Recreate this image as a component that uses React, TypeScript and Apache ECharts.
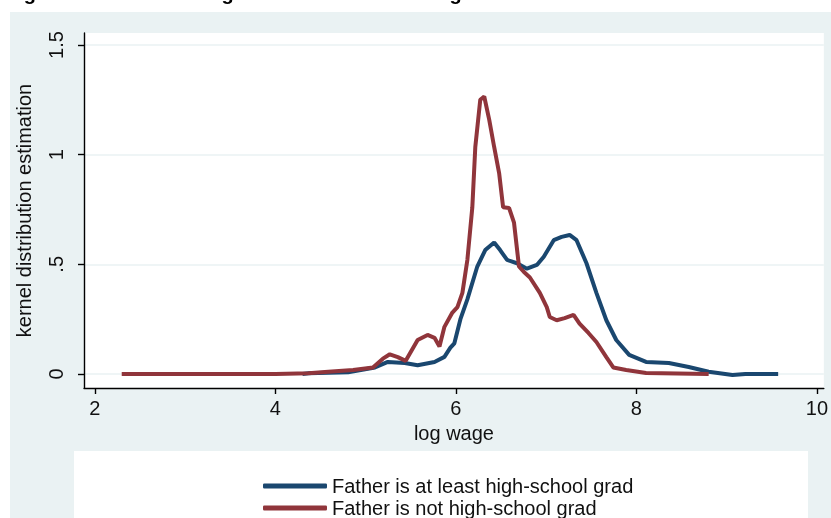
import { useEffect, useRef } from "react";
import * as echarts from "echarts";

const xTicks = [2, 4, 6, 8, 10];
const yTicks = [0, 0.5, 1, 1.5];
const yTickLabels = ["0", ".5", "1", "1.5"];
const seriesNames = ["Father is at least high-school grad", "Father is not high-school grad"];
const titleText = "Figure 4: Individual wage distribution according to father's education";

// Father is at least high-school grad (blue)
const gradX = [4.3, 4.366, 4.806, 5.103, 5.246, 5.433, 5.576, 5.763, 5.873, 5.939, 5.983, 6.05, 6.127, 6.237, 6.325, 6.424, 6.49, 6.567, 6.677, 6.787, 6.897, 6.974, 7.084, 7.172, 7.26, 7.337, 7.447, 7.557, 7.667, 7.777, 7.92, 8.107, 8.36, 8.58, 8.801, 9.065, 9.208, 9.571];
const gradY = [0, 0.003, 0.008, 0.03, 0.055, 0.05, 0.04, 0.055, 0.078, 0.12, 0.14, 0.25, 0.34, 0.49, 0.565, 0.6, 0.565, 0.52, 0.505, 0.48, 0.497, 0.535, 0.61, 0.625, 0.634, 0.61, 0.505, 0.37, 0.245, 0.155, 0.087, 0.055, 0.05, 0.032, 0.01, -0.005, 0, 0];

// Father is not high-school grad (red)
const notGradX = [2.297, 2.715, 3.3, 4.0, 4.366, 4.586, 4.861, 5.081, 5.191, 5.268, 5.356, 5.444, 5.576, 5.686, 5.763, 5.818, 5.873, 5.961, 6.017, 6.072, 6.127, 6.182, 6.215, 6.27, 6.314, 6.369, 6.424, 6.479, 6.523, 6.589, 6.644, 6.699, 6.754, 6.82, 6.93, 7.007, 7.04, 7.117, 7.205, 7.304, 7.37, 7.469, 7.557, 7.667, 7.744, 7.887, 8.107, 8.801];
const notGradY = [0, 0, 0, 0, 0.003, 0.01, 0.018, 0.03, 0.07, 0.09, 0.077, 0.06, 0.155, 0.178, 0.165, 0.125, 0.215, 0.28, 0.305, 0.37, 0.52, 0.76, 1.035, 1.25, 1.265, 1.16, 1.035, 0.916, 0.76, 0.757, 0.69, 0.49, 0.465, 0.44, 0.37, 0.305, 0.26, 0.245, 0.255, 0.27, 0.23, 0.187, 0.146, 0.077, 0.03, 0.018, 0.005, 0];

const BLUE = "#1a476f";
const RED = "#90353b";
const PANEL = "#eaf2f3";
const FONT = "Liberation Sans, Arial, sans-serif";

export default function App() {
  const ref = useRef<HTMLDivElement>(null);
  useEffect(() => {
    if (!ref.current) return;
    const chart = echarts.init(ref.current, null, { renderer: "svg" });
    const pair = (xs: number[], ys: number[]) => xs.map((x, i) => [x, ys[i]]);
    const legendBase = {
      orient: "vertical",
      left: 263,
      padding: 0,
      itemWidth: 64,
      itemHeight: 5,
      icon: "roundRect",
      textStyle: { fontSize: 20, color: "#111", fontFamily: FONT },
    };
    chart.setOption({
      animation: false,
      textStyle: { fontFamily: FONT },
      graphic: [
        { type: "rect", z: -10, silent: true, shape: { x: 10, y: 12, width: 821, height: 506 }, style: { fill: PANEL } },
        { type: "rect", z: -9, silent: true, shape: { x: 74, y: 451, width: 734, height: 80 }, style: { fill: "#fff" } },
        { type: "text", x: 6, y: -17, silent: true, style: { text: titleText, fill: "#000", fontSize: 20, fontWeight: "bold", fontFamily: FONT, verticalAlign: "top" } },
      ],
      grid: { left: 84, right: 2, top: 33, bottom: 130, show: true, backgroundColor: "#fff", borderWidth: 0 },
      legend: [
        { ...legendBase, top: 476, data: [seriesNames[0]] },
        { ...legendBase, top: 498, data: [seriesNames[1]] },
      ],
      xAxis: {
        type: "value",
        min: 1.879,
        max: 10.077,
        name: "log wage",
        nameLocation: "middle",
        nameGap: 35,
        nameTextStyle: { fontSize: 20, color: "#111", fontFamily: FONT },
        axisLine: { onZero: false, lineStyle: { color: "#000", width: 1.4 } },
        axisTick: { customValues: xTicks, length: 6, lineStyle: { color: "#000", width: 1.4 } },
        axisLabel: { customValues: xTicks, fontSize: 20, color: "#111", margin: 10, fontFamily: FONT },
        splitLine: { show: false },
      },
      yAxis: {
        type: "value",
        min: -0.0638,
        max: 1.5547,
        name: "kernel distribution estimation",
        nameLocation: "middle",
        nameGap: 50,
        nameTextStyle: { fontSize: 20, color: "#111", fontFamily: FONT },
        axisLine: { onZero: false, lineStyle: { color: "#000", width: 1.4 } },
        axisTick: { customValues: yTicks, length: 6, lineStyle: { color: "#000", width: 1.4 } },
        axisLabel: {
          customValues: yTicks,
          rotate: 90,
          fontSize: 20,
          color: "#111",
          margin: 18,
          fontFamily: FONT,
          formatter: (v: number) => {
            const i = yTicks.findIndex((t) => Math.abs(t - v) < 1e-6);
            return i >= 0 ? yTickLabels[i] : "";
          },
        },
        splitLine: { show: true, lineStyle: { color: PANEL, width: 1.5 } },
      },
      series: [
        {
          name: seriesNames[0],
          type: "line",
          showSymbol: false,
          data: pair(gradX, gradY),
          lineStyle: { color: BLUE, width: 4 },
          itemStyle: { color: BLUE },
          z: 2,
        },
        {
          name: seriesNames[1],
          type: "line",
          showSymbol: false,
          data: pair(notGradX, notGradY),
          lineStyle: { color: RED, width: 4 },
          itemStyle: { color: RED },
          z: 3,
        },
      ],
    });
    return () => chart.dispose();
  }, []);
  return <div ref={ref} style={{ position: "fixed", left: 0, top: 0, width: 831, height: 518 }} />;
}
